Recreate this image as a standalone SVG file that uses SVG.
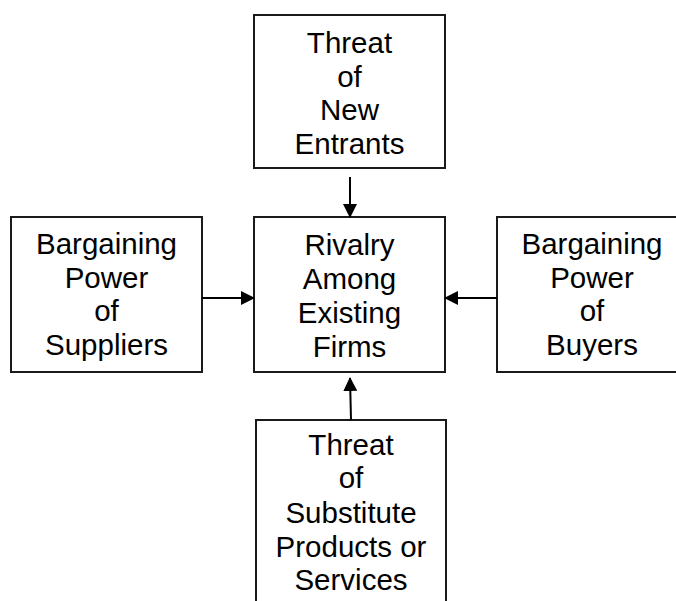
<svg xmlns="http://www.w3.org/2000/svg" width="676" height="601" viewBox="0 0 676 601">
  <style>
    .box { fill: #fff; stroke: #1a1a1a; stroke-width: 2; }
    .lbl { font-family: "Liberation Sans", Arial, sans-serif; font-size: 29.5px; fill: #000; text-anchor: middle; }
    .link { stroke: #000; stroke-width: 2; fill: none; }
  </style>
  <defs>
    <marker id="arrow" viewBox="0 0 14 14" refX="13" refY="7" markerWidth="14" markerHeight="14" markerUnits="userSpaceOnUse" orient="auto">
      <path d="M0,0 L14,7 L0,14 Z" fill="#000"/>
    </marker>
  </defs>
  <rect width="676" height="601" fill="#fff"/>

  <g id="new-entrants">
    <rect class="box" x="254" y="15" width="191" height="153"/>
    <text class="lbl" x="349.5" y="53">Threat</text>
    <text class="lbl" x="349.5" y="87">of</text>
    <text class="lbl" x="349.5" y="120">New</text>
    <text class="lbl" x="349.5" y="154">Entrants</text>
  </g>

  <g id="suppliers">
    <rect class="box" x="11" y="217" width="191" height="155"/>
    <text class="lbl" x="106.5" y="254">Bargaining</text>
    <text class="lbl" x="106.5" y="288">Power</text>
    <text class="lbl" x="106.5" y="321">of</text>
    <text class="lbl" x="106.5" y="355">Suppliers</text>
  </g>

  <g id="rivalry">
    <rect class="box" x="254" y="217" width="191" height="155"/>
    <text class="lbl" x="349.5" y="255">Rivalry</text>
    <text class="lbl" x="349.5" y="289">Among</text>
    <text class="lbl" x="349.5" y="323">Existing</text>
    <text class="lbl" x="349.5" y="357">Firms</text>
  </g>

  <g id="buyers">
    <rect class="box" x="497" y="217" width="191" height="155"/>
    <text class="lbl" x="592" y="254">Bargaining</text>
    <text class="lbl" x="592" y="288">Power</text>
    <text class="lbl" x="592" y="321">of</text>
    <text class="lbl" x="592" y="355">Buyers</text>
  </g>

  <g id="substitutes">
    <rect class="box" x="256" y="420" width="190" height="200"/>
    <text class="lbl" x="351" y="455">Threat</text>
    <text class="lbl" x="351" y="488">of</text>
    <text class="lbl" x="351" y="523">Substitute</text>
    <text class="lbl" x="351" y="557">Products or</text>
    <text class="lbl" x="351" y="590">Services</text>
  </g>

  <g id="connectors">
    <line class="link" x1="350" y1="177" x2="350" y2="217" marker-end="url(#arrow)"/>
    <line class="link" x1="202" y1="298" x2="254" y2="298" marker-end="url(#arrow)"/>
    <line class="link" x1="497" y1="298" x2="445" y2="298" marker-end="url(#arrow)"/>
    <line class="link" x1="351" y1="420" x2="350" y2="378" marker-end="url(#arrow)"/>
  </g>
</svg>
